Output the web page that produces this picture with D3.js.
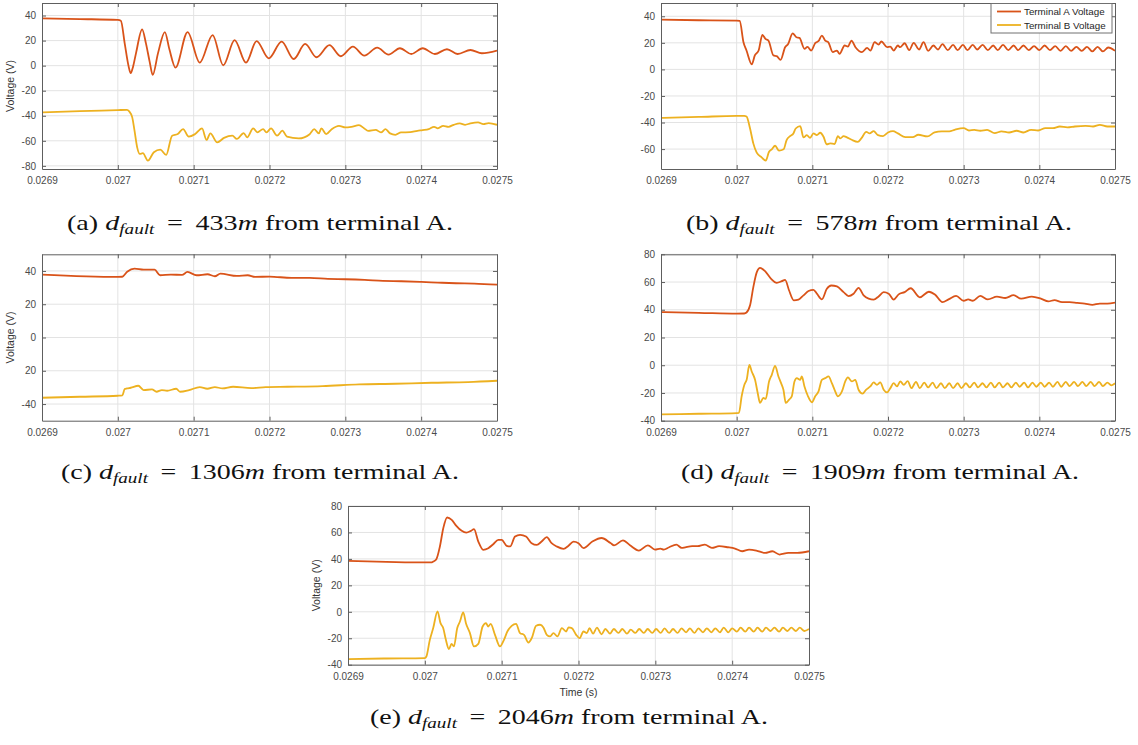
<!DOCTYPE html>
<html>
<head>
<meta charset="utf-8">
<script src="https://cdn.jsdelivr.net/npm/d3@7"></script>
<style>
  body { margin: 0; background: #ffffff; }
  svg { display: block; }
</style>
</head>
<body>
<svg id="fig" width="1138" height="745"></svg>
<script>
// ---------------------------------------------------------------------------
// Data: time in microseconds (26900 = 0.0269 s), voltage in volts
// ---------------------------------------------------------------------------
const timeTicks = [26900, 27000, 27100, 27200, 27300, 27400, 27500];
const timeTickLabels = ["0.0269", "0.027", "0.0271", "0.0272", "0.0273", "0.0274", "0.0275"];
const seriesNames = ["Terminal A Voltage", "Terminal B Voltage"];
const panelLetters = ["a", "b", "c", "d", "e"];
const faultDistances = [433, 578, 1306, 1909, 2046];

const voltTicksA = [-80, -60, -40, -20, 0, 20, 40];
const voltTicksB = [-60, -40, -20, 0, 20, 40];
const voltTicksC = [-40, -20, 0, 20, 40];
const voltTickLabelsC = ["-40", "20", "0", "20", "40"];
const voltTicksD = [-40, -20, 0, 20, 40, 60, 80];

// (a) 433 m
const faultA_termA = [[26900,37.8],[26950,37.2],[27000,36.5],[27004,35.8],[27009,18],[27014,0],[27017,-6],[27020,-1],[27024,10],[27032,29],[27037,18],[27042,3],[27046,-7.4],[27053,10],[27062,26.8],[27068,13],[27076,-1.6],[27092,26.8],[27108,2.4],[27125,24.4],[27139,0.3],[27154,20.4],[27169,2.4],[27183,19.6],[27199,5.8],[27216,19.2],[27232,5.3],[27247,17.3],[27262,6.7],[27279,16.3],[27294,7.5],[27310,15.2],[27325,8],[27342,14.4],[27357,8.8],[27372,13.9],[27387,9.3],[27402,13.9],[27418,9.3],[27434,13.1],[27448,9.3],[27465,12.5],[27480,9.9],[27500,12]];
const faultA_termB = [[26900,-37.3],[26950,-36.3],[27000,-35.5],[27012,-35.3],[27015,-36.5],[27019,-41.3],[27022,-51.9],[27025.5,-65.2],[27029,-70.5],[27033,-69.9],[27039.6,-75.8],[27047.5,-69.1],[27056,-67.0],[27063.7,-71.3],[27071.6,-55.9],[27079,-54.6],[27086,-50.6],[27093.6,-56.7],[27102,-54.6],[27111,-50.1],[27117,-59.3],[27122,-54.0],[27131,-61.2],[27140,-57.7],[27151,-55.9],[27157,-58.5],[27166,-53.8],[27170.5,-57.2],[27178.5,-50.1],[27184,-53.2],[27191.6,-50.6],[27196,-53.2],[27202,-50.1],[27210,-55.9],[27217,-51.9],[27223,-56.7],[27238.6,-58.1],[27253,-54.7],[27259,-50.7],[27265,-54.1],[27268.4,-50.1],[27274.7,-54.7],[27282,-50.7],[27291.6,-48.0],[27300,-49.3],[27308,-48.8],[27318,-47.5],[27325,-50.1],[27330,-52.0],[27340,-51.2],[27347,-53.3],[27353,-50.7],[27359,-54.1],[27366,-55.2],[27373.5,-53.3],[27385.5,-53.1],[27395,-52.0],[27402,-51.5],[27410,-50.7],[27417,-48.8],[27422,-50.1],[27429,-48.0],[27436,-48.8],[27443,-47.2],[27451,-46.1],[27458,-47.2],[27465,-46.1],[27475,-45.3],[27482,-46.7],[27489,-45.9],[27500,-47.2]];

// (b) 578 m
const faultB_termA = [[26900,37.5],[26950,37],[27000,36.75],[27004,36.5],[27009,20.5],[27013,14.2],[27020,3.8],[27024,10.5],[27029,14.2],[27034,26],[27038,23],[27042,21.7],[27048.6,10.5],[27053,10],[27058,7.2],[27064,16.7],[27068,19.2],[27074,27.2],[27079,24.2],[27083,23.7],[27089.6,15.5],[27093.6,17],[27098.5,14.2],[27104,20],[27108,21.2],[27112.6,25.5],[27117,21.7],[27121,20.5],[27127,13],[27132.5,14.2],[27136,11.7],[27142.7,18],[27147,17.2],[27151.6,21.7],[27157,16.7],[27165.6,13],[27172.4,16.2],[27176.8,14.2],[27182.3,20.5],[27187.6,18.7],[27191.2,21],[27198.7,16.7],[27203,17.2],[27207.5,14.2],[27213,18],[27216,16.7],[27222,19.7],[27228,14.5],[27234,20],[27241,15],[27247,20.5],[27253,14],[27260,18],[27266,15],[27272,19],[27279,14.5],[27286,18.5],[27292,14.5],[27299,18.5],[27305,14.5],[27312,18.5],[27318,15],[27325,18.5],[27332,14.5],[27339,18],[27345,14.5],[27352,18.5],[27359,14.5],[27366,18],[27372,14.5],[27379,18],[27386,14.5],[27393,17.5],[27400,14.5],[27407,18],[27414,14.5],[27421,17.5],[27428,14],[27435,17.5],[27442,14],[27449,17],[27456,14],[27463,17],[27470,13.5],[27477,17],[27484,13.5],[27491,16.5],[27500,14]];
const faultB_termB = [[26900,-36.5],[26950,-35.8],[27000,-35],[27010,-35],[27013,-35.5],[27017.7,-44.5],[27022,-55.7],[27026.5,-62.7],[27033,-66.2],[27038.4,-68.7],[27042.8,-62],[27046.4,-60.2],[27050.8,-57.5],[27056,-61.2],[27062,-60.2],[27066,-53.2],[27070.6,-50.2],[27075,-48.2],[27078,-44.5],[27084,-42.7],[27088.3,-51.2],[27092.7,-49.5],[27097,-51.5],[27101.5,-48.2],[27106,-49.5],[27110.4,-47.7],[27114.8,-50.7],[27119,-56.5],[27123.6,-55.7],[27129.4,-56.2],[27133.8,-50.2],[27137,-52],[27141.3,-50.2],[27145.7,-51.2],[27152,-53],[27160,-54.5],[27164.7,-52],[27171.3,-47],[27175.7,-48.2],[27181,-46.5],[27186.8,-49.5],[27193.4,-50.2],[27200,-47.5],[27206.6,-46.5],[27213,-48.2],[27223,-51],[27232.7,-51],[27240,-49.2],[27252,-50.5],[27261.5,-47.5],[27271,-46.7],[27281,-46.7],[27288,-45.5],[27300,-44.2],[27307,-46],[27314,-45.5],[27322,-46.2],[27331,-45.5],[27341,-48],[27350,-46.7],[27360,-47.5],[27370,-46.2],[27379,-47.5],[27389,-45.5],[27398.5,-46],[27408,-44.2],[27418,-44.2],[27427,-43],[27437,-43.7],[27447,-43],[27461,-42.5],[27471,-43],[27480,-41.7],[27490,-43],[27500,-43]];

// (c) 1306 m
const faultC_termA = [[26900,37.8],[27000,36.4],[27005.8,36.5],[27012.3,39.5],[27022,41.4],[27034,40.8],[27048.4,40.8],[27055.7,37.4],[27070,37.8],[27084.6,37.6],[27091.8,39.4],[27103.9,37.4],[27118.3,38],[27128,36.8],[27135.2,38.4],[27157,37],[27171.3,37.4],[27181,36.4],[27200,36.6],[27229,35.8],[27253,35.8],[27277,35.2],[27300,35],[27325.5,34.6],[27349.6,34],[27373.7,33.8],[27400,33.4],[27421.9,33.0],[27446,32.6],[27470,32.4],[27500,31.8]];
const faultC_termB = [[26900,-36.2],[26950,-35.6],[27000,-35],[27006,-34.8],[27009,-31],[27012,-30.6],[27017,-30.2],[27027,-29],[27034,-31.6],[27045,-31.2],[27051,-32.6],[27058,-31.6],[27065,-32],[27077,-30.8],[27082,-32.6],[27094,-31.6],[27108,-29.8],[27118,-30.8],[27128,-29.8],[27138,-30.6],[27152,-29.6],[27176,-30.4],[27195,-29.8],[27224,-29.6],[27270,-29.2],[27318,-28.2],[27366,-27.8],[27414,-27.2],[27462,-26.8],[27500,-26]];

// (d) 1909 m
const faultD_termA = [[26900,38.3],[26950,37.8],[27000,37.2],[27010,37.3],[27013,38],[27017.7,43.2],[27022,56.3],[27026.5,67],[27031,70.2],[27037.5,67.8],[27045.5,62.3],[27053,59.4],[27059.6,60.6],[27064,61.6],[27069.3,53.9],[27075.5,46.8],[27081.7,47.3],[27088.3,50.4],[27094.9,53.5],[27101.5,54.4],[27106,51.6],[27112.6,47.5],[27119.2,55.1],[27125,57.5],[27132.5,56.8],[27141.3,52.7],[27147.9,49.9],[27154.5,51.6],[27161.1,55.8],[27167.8,50.4],[27174.4,48],[27181,47.3],[27187.6,49.6],[27194.3,52.7],[27200.9,51.6],[27207.5,47.3],[27214.1,51.1],[27222,52.7],[27230,55.5],[27242,49],[27254,53],[27262,51],[27272,45.5],[27280,47.5],[27290,50],[27300,46.5],[27306,47.5],[27312,46.5],[27322,50],[27332,47.5],[27344,49.5],[27355,48.5],[27366,50.5],[27376,48],[27390,49.5],[27402,48],[27412,46],[27420,47],[27430,45.5],[27440,45.5],[27450,45],[27460,44.5],[27470,43.5],[27480,44.5],[27490,44.5],[27500,45.2]];
const faultD_termB = [[26900,-35.5],[26950,-35],[27000,-34.5],[27003,-34.4],[27006.6,-22.4],[27010.2,-14.1],[27013.2,-10.5],[27016.8,0.2],[27019.9,-4.5],[27024.3,-10.5],[27027.8,-20],[27030.9,-27.2],[27035.3,-23.6],[27038.4,-24.3],[27042.8,-11.7],[27046.4,-6.9],[27050.8,-0.5],[27055.2,-8.1],[27058.7,-12.9],[27061.8,-17.7],[27064.9,-27.2],[27069.3,-24.8],[27072.8,-22.4],[27076.4,-11.7],[27079.5,-9.3],[27083.9,-10.5],[27086.1,-8.1],[27089.6,-15.3],[27094,-22],[27099.4,-26.7],[27103.8,-22.4],[27108.2,-18.9],[27112.6,-10.5],[27117,-9.3],[27121.4,-8.1],[27125.8,-12.9],[27129.4,-17.7],[27133.8,-22.4],[27139.1,-18.9],[27143.5,-11.7],[27147,-8.8],[27152.3,-11.7],[27156.7,-10.5],[27161.1,-17.7],[27166.4,-20.5],[27170.9,-17.7],[27176.6,-15.3],[27181,-12.4],[27185.4,-14.1],[27189.8,-12.4],[27194.3,-17.7],[27198.7,-19.6],[27203.1,-16.5],[27207.5,-12.9],[27211.9,-15.3],[27216.3,-11.7],[27220.8,-14.1],[27226,-11.5],[27231,-16.5],[27237,-12],[27242,-16.5],[27248,-12.5],[27253,-16],[27259,-12.5],[27264,-16.5],[27270,-13],[27275,-16.5],[27281,-13],[27286,-16.5],[27292,-13],[27297,-16.5],[27303,-13],[27308,-16],[27314,-12.5],[27319,-16],[27325,-13],[27330,-16],[27336,-12.5],[27341,-16],[27347,-12.5],[27352,-16],[27358,-13],[27363,-16],[27369,-12.5],[27374,-15.5],[27380,-12.5],[27385,-16],[27391,-12.5],[27396,-15.5],[27402,-12.5],[27407,-15.5],[27413,-12.5],[27418,-15.5],[27424,-12],[27429,-15.5],[27435,-12],[27440,-15],[27446,-12],[27451,-15],[27457,-12],[27462,-15],[27468,-12],[27473,-15],[27479,-12],[27484,-15],[27490,-12.5],[27495,-14.5],[27500,-13]];

// (e) 2046 m
const faultE_termA = [[26900,38.5],[26950,37.8],[27000,37.3],[27008,37.3],[27011,38],[27015,39.8],[27019.6,49.4],[27024,63.2],[27029,71.3],[27035,69.5],[27041,65],[27048,61.2],[27054,59.9],[27060,61.2],[27064,62.5],[27069.6,53.1],[27076,46.9],[27082.6,48.1],[27089,51.1],[27095.7,54.4],[27100,54.4],[27106.5,49.9],[27111,49.4],[27117.4,56.9],[27124,58.2],[27131.7,56.9],[27139,51.9],[27145.7,50.6],[27152,53.1],[27158.7,56.4],[27165,51.9],[27171.7,49.4],[27180.4,47.6],[27187,49.9],[27193.5,53.1],[27200,51.9],[27206.5,48.1],[27218.5,53.3],[27230,55.8],[27241.7,52],[27246.3,50.3],[27257.9,54],[27267,50.3],[27278.7,46.3],[27290.3,50.3],[27299.5,47],[27306.5,47.8],[27311,47],[27318,48.8],[27327.3,50.8],[27334.3,48.3],[27339,48.8],[27348,49.6],[27355,49.6],[27364.4,50.8],[27373.6,48.3],[27382.9,49.6],[27394.4,48.8],[27403.7,47.8],[27413,45.8],[27422,47],[27431.5,46.3],[27443,44.5],[27452.3,45.8],[27461.6,43.3],[27473,44.5],[27484.7,44.5],[27500,45.8]];
const faultE_termB = [[26900,-35.8],[26950,-35.3],[27000,-35],[27002,-33.8],[27006.5,-21.2],[27010.9,-12.3],[27016.5,0.3],[27020.4,-8.6],[27023.9,-12.3],[27027.4,-21.2],[27031.3,-28.2],[27034.8,-24.2],[27037.8,-26.2],[27042.2,-12.3],[27045.7,-7.3],[27050,-0.5],[27053.5,-8.6],[27058.7,-16.1],[27063.9,-26.2],[27069.6,-24.2],[27075.2,-11.1],[27079.6,-8.6],[27082.6,-11.1],[27085.7,-9.1],[27091.3,-17.4],[27097.8,-26.2],[27103,-21.2],[27107.4,-14.9],[27113,-10.6],[27118.7,-9.1],[27123.9,-16.1],[27129.1,-17.4],[27134.8,-23.2],[27139.1,-19.9],[27144.8,-10.6],[27150,-9.8],[27154.3,-11.8],[27158.7,-17.4],[27163,-18.6],[27167.4,-16.1],[27172.6,-18.6],[27178.3,-12.3],[27183.9,-14.9],[27187,-11.8],[27191.3,-12.3],[27197,-17.4],[27201.3,-19.9],[27206.5,-14.9],[27210.9,-16.1],[27214.3,-12.3],[27219,-16.5],[27224,-12],[27230,-17],[27235,-13],[27241,-16.5],[27246,-13],[27252,-16],[27257,-13],[27263,-16.5],[27268,-13.5],[27274,-16],[27279,-13],[27285,-16],[27290,-13],[27296,-16],[27301,-13],[27307,-16],[27312,-12.5],[27318,-16],[27323,-13],[27329,-16],[27334,-12.5],[27340,-15.5],[27345,-12.5],[27351,-16],[27356,-12.5],[27362,-15.5],[27367,-12.5],[27373,-15.5],[27378,-12.5],[27384,-15.5],[27389,-12],[27395,-15.5],[27400,-12.5],[27406,-15],[27411,-12],[27417,-15],[27422,-12],[27428,-15],[27433,-12],[27439,-15],[27444,-12],[27450,-14.5],[27455,-12],[27461,-15],[27466,-12],[27472,-14.5],[27477,-12],[27483,-14.5],[27488,-12],[27494,-14.5],[27500,-13]];

// ---------------------------------------------------------------------------
// Layout
// ---------------------------------------------------------------------------
const COLORS = ["#D95319", "#EDB120"];
const GRID = "#e3e3e3";
const AXIS = "#5e5e5e";
const TICK_TEXT = "#4a4a4a";

const panels = [
  { id: 0, left: 42, right: 497, top: 3, bottom: 169, yDomain: [-82.5, 50], yTicks: voltTicksA,
    series: [faultA_termA, faultA_termB], yLabel: true, capX: 260, capY: 230, capW: 386 },
  { id: 1, left: 661, right: 1115, top: 3, bottom: 169, yDomain: [-75, 50], yTicks: voltTicksB,
    series: [faultB_termA, faultB_termB], legend: true, capX: 879, capY: 230, capW: 386 },
  { id: 2, left: 42, right: 497, top: 254.3, bottom: 420.7, yDomain: [-50, 50], yTicks: voltTicksC,
    yTickLabels: voltTickLabelsC, series: [faultC_termA, faultC_termB], yLabel: true, capX: 260, capY: 479, capW: 398 },
  { id: 3, left: 661, right: 1115, top: 254.3, bottom: 420.7, yDomain: [-40, 80], yTicks: voltTicksD,
    series: [faultD_termA, faultD_termB], capX: 880, capY: 479, capW: 398 },
  { id: 4, left: 348, right: 809, top: 506, bottom: 664.7, yDomain: [-40, 80], yTicks: voltTicksD,
    series: [faultE_termA, faultE_termB], yLabel: true, xLabel: true, capX: 569, capY: 724, capW: 398 }
];

const svg = d3.select("#fig");
const defs = svg.append("defs");

function drawPanel(p) {
  const g = svg.append("g").attr("class", "panel-" + panelLetters[p.id]);
  const x = d3.scaleLinear().domain([26900, 27500]).range([p.left, p.right]);
  const y = d3.scaleLinear().domain(p.yDomain).range([p.bottom, p.top]);

  // grid
  g.append("g").selectAll("line").data(timeTicks.slice(1, -1)).join("line")
    .attr("x1", d => x(d)).attr("x2", d => x(d)).attr("y1", p.top).attr("y2", p.bottom)
    .attr("stroke", GRID).attr("stroke-width", 1);
  g.append("g").selectAll("line").data(p.yTicks).join("line")
    .attr("x1", p.left).attr("x2", p.right).attr("y1", d => y(d)).attr("y2", d => y(d))
    .attr("stroke", GRID).attr("stroke-width", 1);

  // traces
  const clipId = "clip-" + p.id;
  defs.append("clipPath").attr("id", clipId).append("rect")
    .attr("x", p.left).attr("y", p.top).attr("width", p.right - p.left).attr("height", p.bottom - p.top);
  const line = d3.line().x(d => x(d[0])).y(d => y(d[1])).curve(d3.curveMonotoneX);
  g.append("g").attr("clip-path", `url(#${clipId})`).selectAll("path").data(p.series).join("path")
    .attr("d", line).attr("fill", "none")
    .attr("stroke", (d, i) => COLORS[i]).attr("stroke-width", 1.8)
    .attr("stroke-linejoin", "round");

  // axes with inward ticks on all four sides
  const labelFor = d => p.yTickLabels ? p.yTickLabels[p.yTicks.indexOf(d)] : String(d);
  const xAxis = d3.axisBottom(x).tickValues(timeTicks)
    .tickFormat((d, i) => timeTickLabels[i]).tickSizeInner(-4).tickSizeOuter(0).tickPadding(8);
  const yAxis = d3.axisLeft(y).tickValues(p.yTicks).tickFormat(labelFor)
    .tickSizeInner(-4).tickSizeOuter(0).tickPadding(6);
  const xTop = d3.axisTop(x).tickValues(timeTicks).tickFormat("").tickSizeInner(-4).tickSizeOuter(0);
  const yRight = d3.axisRight(y).tickValues(p.yTicks).tickFormat("").tickSizeInner(-4).tickSizeOuter(0);

  const styleAxis = sel => {
    sel.selectAll("path").attr("stroke", AXIS);
    sel.selectAll("line").attr("stroke", AXIS);
    sel.selectAll("text").attr("fill", TICK_TEXT)
      .style("font-family", "'Liberation Sans', Arial, sans-serif").style("font-size", "10px");
  };
  g.append("g").attr("transform", `translate(0,${p.bottom})`).call(xAxis).call(styleAxis);
  g.append("g").attr("transform", `translate(${p.left},0)`).call(yAxis).call(styleAxis);
  g.append("g").attr("transform", `translate(0,${p.top})`).call(xTop).call(styleAxis);
  g.append("g").attr("transform", `translate(${p.right},0)`).call(yRight).call(styleAxis);

  if (p.yLabel) {
    g.append("text")
      .attr("transform", `translate(${p.left - 28},${(p.top + p.bottom) / 2}) rotate(-90)`)
      .attr("text-anchor", "middle")
      .attr("fill", "#333")
      .style("font-family", "'Liberation Sans', Arial, sans-serif").style("font-size", "10.5px")
      .text("Voltage (V)");
  }
  if (p.xLabel) {
    g.append("text")
      .attr("x", (p.left + p.right) / 2).attr("y", p.bottom + 31)
      .attr("text-anchor", "middle")
      .attr("fill", "#333")
      .style("font-family", "'Liberation Sans', Arial, sans-serif").style("font-size", "10.5px")
      .text("Time (s)");
  }

  if (p.legend) {
    const lg = g.append("g");
    const boxR = p.right - 3, boxL = boxR - 121, boxT = p.top + 0.5, boxB = p.top + 30;
    lg.append("rect").attr("x", boxL).attr("y", boxT).attr("width", boxR - boxL).attr("height", boxB - boxT)
      .attr("fill", "#fff").attr("stroke", "#707070").attr("stroke-width", 1);
    seriesNames.forEach((name, i) => {
      const yy = boxT + 8 + i * 13.5;
      lg.append("line").attr("x1", boxL + 6).attr("x2", boxL + 30).attr("y1", yy).attr("y2", yy)
        .attr("stroke", COLORS[i]).attr("stroke-width", 1.8);
      lg.append("text").attr("x", boxL + 33).attr("y", yy + 3.5)
        .attr("fill", "#262626")
        .style("font-family", "'Liberation Sans', Arial, sans-serif").style("font-size", "9.8px")
        .text(name);
    });
  }

  // caption: (x) d_fault = N m from terminal A.
  const cap = svg.append("text")
    .attr("x", p.capX).attr("y", p.capY)
    .attr("text-anchor", "middle")
    .attr("fill", "#111")
    .attr("textLength", p.capW).attr("lengthAdjust", "spacingAndGlyphs")
    .style("font-family", "'Liberation Serif', 'DejaVu Serif', serif")
    .style("font-size", "22px");
  cap.append("tspan").text(`(${panelLetters[p.id]}) `);
  cap.append("tspan").style("font-style", "italic").text("d");
  cap.append("tspan").style("font-style", "italic").style("font-size", "15px").attr("dy", 4).text("fault");
  cap.append("tspan").attr("dy", -4).text(` \u2009=\u2009 ${faultDistances[p.id]}`);
  cap.append("tspan").style("font-style", "italic").text("m");
  cap.append("tspan").text(" from terminal A.");
}

panels.forEach(drawPanel);
</script>
</body>
</html>
